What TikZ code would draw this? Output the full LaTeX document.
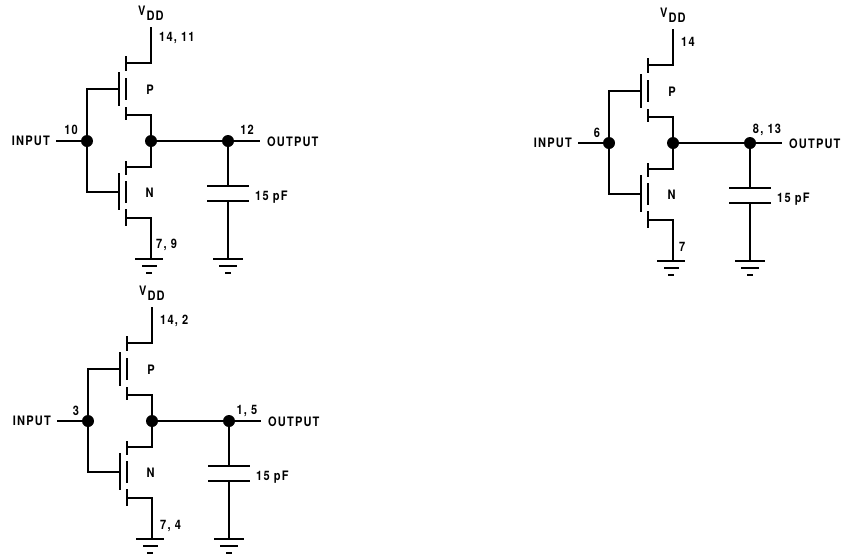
\documentclass[tikz,border=0pt]{standalone}
\usepackage{fontspec}
\setmainfont[LetterSpace=9,FakeStretch=0.85]{TeX Gyre Heros}
\tikzset{
 x=1pt,y=-1pt,
 wire/.style={line width=2.8pt,black},
 thinwire/.style={line width=2.2pt,black},
 bar/.style={line width=2.6pt,black},
 junction/.style={circle,fill=black,inner sep=0pt,minimum size=12pt,draw=none},
 lbl/.style={font=\fontsize{13}{15}\selectfont\bfseries,inner sep=0pt,black},
}
% #1 prefix, #2 x shift, #3 y shift, #4 top pin, #5 its baseline, #6 pos of output pin, #7 output pin
\newcommand{\inverter}[7]{
\begin{scope}[shift={(#2,#3)}]
 \node[junction] (#1in) at (87,141) {};
 \node[junction] (#1mid) at (151,141) {};
 \node[junction] (#1out) at (228,141) {};
 \coordinate (#1vdd) at (151,27);
 \coordinate (#1ps) at (126,63);
 \coordinate (#1pd) at (126,115);
 \coordinate (#1ns) at (126,167);
 \coordinate (#1nd) at (126,218);
 \coordinate (#1gp) at (119,89);
 \coordinate (#1gn) at (119,192);
 \coordinate (#1il) at (56,141);
 \coordinate (#1ol) at (260,141);
 \coordinate (#1gnda) at (151,259);
 \coordinate (#1gndb) at (228,259);
 \coordinate (#1capa) at (228,186);
 \coordinate (#1capb) at (228,201);
 \draw[wire] (#1vdd) |- (#1ps);
 \draw[wire] (#1mid) |- (#1pd);
 \draw[wire] (#1mid) |- (#1ns);
 \draw[wire] (#1gnda) |- (#1nd);
 \draw[wire] (#1in) |- (#1gp);
 \draw[wire] (#1in) |- (#1gn);
 \draw[thinwire] (#1il) -- (#1in);
 \draw[wire] (#1mid) -- (#1out);
 \draw[thinwire] (#1out) -- (#1ol);
 \draw[wire] (#1out) -- (#1capa);
 \draw[wire] (#1capb) -- (#1gndb);
 \draw[bar] (207,186) -- (249,186);
 \draw[bar] (207,201) -- (249,201);
 % P device
 \draw[bar] (119,72) -- (119,106);
 \draw[bar] (126,56) -- (126,71);
 \draw[bar] (126,78) -- (126,100);
 \draw[bar] (126,107) -- (126,120);
 % N device
 \draw[bar] (119,173) -- (119,210);
 \draw[bar] (126,161) -- (126,175);
 \draw[bar] (126,181) -- (126,203);
 \draw[bar] (126,209) -- (126,226);
 % grounds
 \draw[wire] (135,259) -- (163,259);
 \draw[wire] (142,266) -- (157,266);
 \draw[wire] (146,273) -- (152,273);
 \draw[wire] (213,259) -- (243,259);
 \draw[wire] (219,266) -- (237,266);
 \draw[wire] (225,273) -- (231,273);
 % labels
 \node[lbl,anchor=base west] (#1t) at (138,15) {V\hspace{1pt}\raisebox{-5pt}{DD}};
 \node[lbl,anchor=base west] (#1a) at (159,#5) {#4};
 \node[lbl,anchor=base] (#1p) at (150,94) {P};
 \node[lbl,anchor=base] (#1n) at (149.5,197) {N};
 \node[lbl,anchor=base east] (#1b) at (50,145) {INPUT};
 \node[lbl,anchor=base] (#1c) at (#6) {#7};
 \node[lbl,anchor=base west] (#1o) at (267,146) {OUTPUT};
 \node[lbl,anchor=base west] (#1f) at (255,200) {15 pF};
\end{scope}
}
\begin{document}
\begin{tikzpicture}
\useasboundingbox (0,0) rectangle (841,558);
\inverter{a}{0}{0}{14, 11}{41}{247,134}{12}
\node[lbl,anchor=base] (apin) at (71,134) {10};
\node[lbl,anchor=base west] (ab) at (156,248) {7, 9};
\inverter{b}{522}{2}{14}{44}{245,131}{8, 13}
\node[lbl,anchor=base] (bpin) at (597,137) {6};
\node[lbl,anchor=base west] (bb) at (679,251) {7};
\inverter{c}{1}{280}{14, 2}{44}{246,134}{1, 5}
\node[lbl,anchor=base] (cpin) at (76,415) {3};
\node[lbl,anchor=base west] (cb) at (160,529) {7, 4};
\end{tikzpicture}
\end{document}
